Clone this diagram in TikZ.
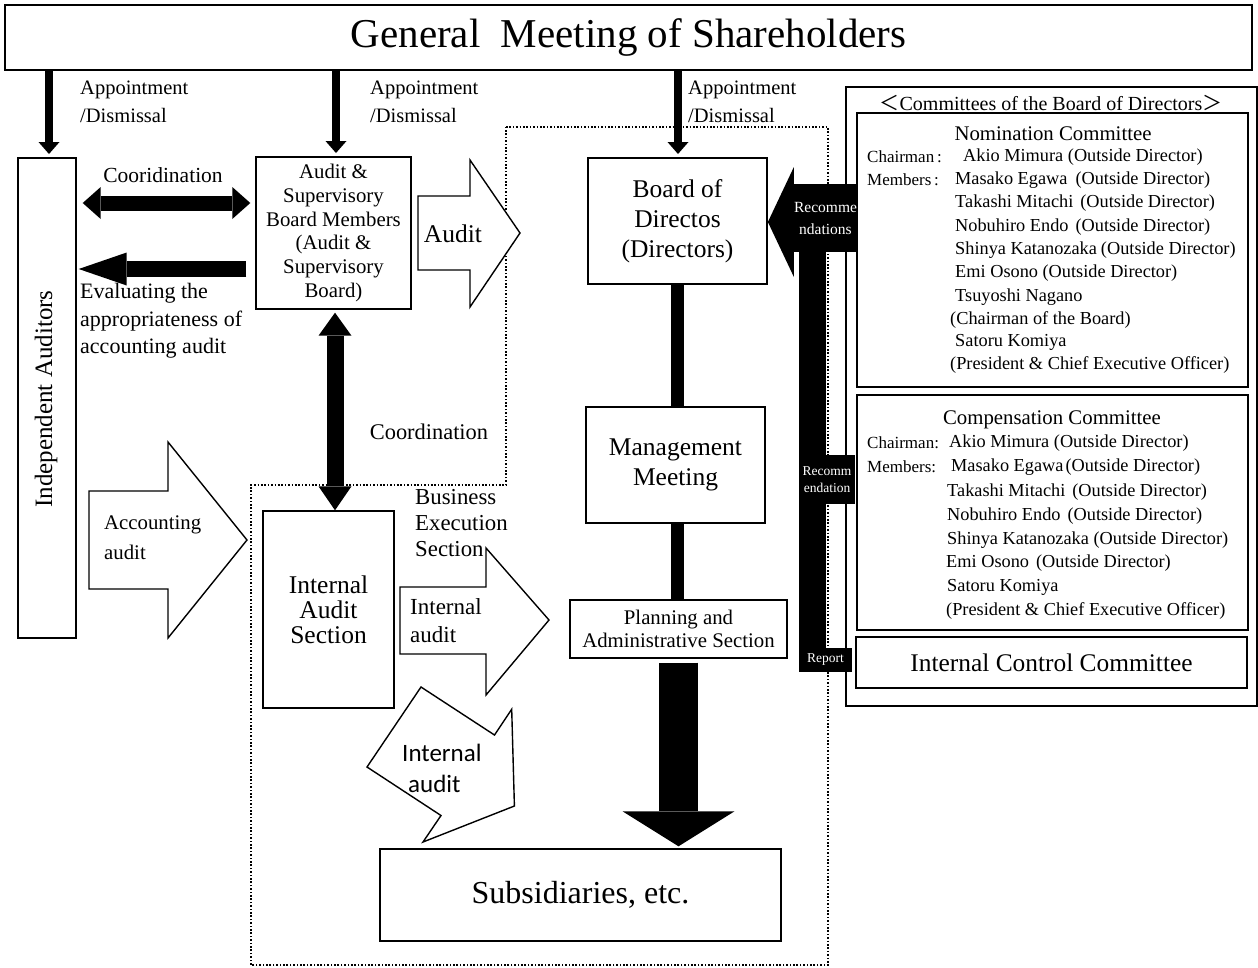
\documentclass[tikz,border=0pt]{standalone}
\usepackage{fontspec}
\setmainfont{Liberation Serif}
\newfontfamily\sansf{Carlito}
\newfontfamily\cjkf{Noto Sans CJK JP}
\usetikzlibrary{arrows.meta,calc}
\newcommand\fsz[2]{\fontsize{#1pt}{#2pt}\selectfont}
\newcommand\fwlt{{\cjkf ＜}}
\newcommand\fwgt{{\cjkf ＞}}
\begin{document}
\begin{tikzpicture}[x=1pt,y=-1pt,
  box/.style={draw, line width=1.4pt, fill=white, inner sep=0pt, align=center},
  hollow/.style={draw, line width=1.4pt, fill=white, line join=miter},
  dotline/.style={line width=1.2pt, dash pattern=on 1.6pt off 1.8pt},
  lbl/.style={inner sep=0pt, align=left, anchor=west},
  mem/.style={inner sep=0pt, anchor=west, font=\fsz{18.3}{22}},
  blk/.style={fill=black, text=white, inner sep=0pt, align=center},
  appr/.style={line width=8pt, -{Triangle[width=21pt,length=12pt,line width=0pt]}},
]
\useasboundingbox (0,0) rectangle (1258,967);
\fill[white] (0,0) rectangle (1258,967);

% dotted business execution region
\draw[dotline] (506,127) -- (828,127) -- (828,965) -- (251,965) -- (251,485) -- (506,485) -- cycle;

% title
\node[box, line width=1.6pt, minimum width=1247pt, minimum height=65pt, font=\fsz{41}{45}] (gms) at (628.5,37.5) {General\ \ Meeting of Shareholders};

% main boxes
\node[box, minimum width=58pt, minimum height=480pt] (iaud) at (47,398) {};
\node[rotate=90, inner sep=0pt, font=\fsz{25}{28}] (iaudt) at (46,399) {Independent Auditors};
\node[box, minimum width=155pt, minimum height=152pt, font=\fsz{20.8}{23.7}] (asb) at (333.5,233) {Audit \&\\Supervisory\\Board Members\\(Audit \&\\Supervisory\\Board)};
\node[box, minimum width=179pt, minimum height=126pt, font=\fsz{25.5}{30}] (board) at (677.5,221) {Board of\\Directos\\(Directors)};
\node[box, minimum width=179pt, minimum height=116pt, font=\fsz{25.5}{30}] (mgmt) at (675.5,465) {Management\\Meeting};
\node[box, minimum width=217pt, minimum height=58pt, font=\fsz{20.8}{23}] (plan) at (678.5,629) {Planning and\\Administrative Section};
\node[box, minimum width=131pt, minimum height=197pt, font=\fsz{25.5}{25}] (ias) at (328.5,609.5) {Internal\\Audit\\Section};
\node[box, minimum width=401pt, minimum height=92pt, font=\fsz{32}{36}] (subs) at (580.5,895) {Subsidiaries, etc.};

% appointment arrows
\coordinate (a1) at (49,154);
\coordinate (a2) at (336,153);
\coordinate (a3) at (678,154);
\draw[appr] (gms.south -| a1) -- (a1);
\draw[appr] (gms.south -| a2) -- (a2);
\draw[appr] (gms.south -| a3) -- (a3);
\node[lbl, font=\fsz{20.5}{28}] (ap1) at (80,102) {Appointment\\/Dismissal};
\node[lbl, font=\fsz{20.5}{28}] (ap2) at (370,102) {Appointment\\/Dismissal};
\node[lbl, font=\fsz{20.5}{28}] (ap3) at (688,102) {Appointment\\/Dismissal};

% coordination double arrow (horizontal)
\coordinate (c1) at (0,203);
\draw[line width=15pt, shorten <=6pt, shorten >=5pt,
  {Triangle[width=32pt,length=18pt,line width=0pt]}-{Triangle[width=32pt,length=18pt,line width=0pt]}]
  (iaud.east |- c1) -- (asb.west |- c1);
\node[font=\fsz{21.5}{24}, inner sep=0pt] (coor1) at (163,175) {Cooridination};

% evaluating arrow
\coordinate (c3) at (0,269);
\draw[line width=16pt, shorten <=9pt, shorten >=2pt, -{Triangle[width=33pt,length=48pt,line width=0pt]}]
  (asb.west |- c3) -- (iaud.east |- c3);
\node[lbl, font=\fsz{22}{27.5}] (evl) at (80,321) {Evaluating the\\appropriateness of\\accounting audit};

% vertical coordination
\coordinate (c4) at (335,0);
\draw[line width=17pt, shorten <=3pt,
  {Triangle[width=33pt,length=23pt,line width=0pt]}-{Triangle[width=33pt,length=24pt,line width=0pt]}]
  (asb.south -| c4) -- (ias.north -| c4);
\node[font=\fsz{22.4}{25}, inner sep=0pt] (coor2) at (429,432) {Coordination};

% audit hollow arrow
\draw[hollow] (418,196) -- (470,196) -- (470,160) -- (520,233) -- (470,307) -- (470,270) -- (418,270) -- cycle;
\node[font=\fsz{25.5}{28}, inner sep=0pt] (audt) at (453,234) {Audit};

% accounting audit arrow
\draw[hollow] (89,491) -- (168,491) -- (168,442) -- (247,540) -- (168,638) -- (168,589) -- (89,589) -- cycle;
\node[lbl, font=\fsz{20.8}{29.6}] (acc) at (104,537.5) {Accounting\\audit};

% business execution label
\node[lbl, font=\fsz{22.8}{26.3}] (bes) at (415,523) {Business\\Execution\\Section};

% internal audit arrow (right)
\draw[hollow] (400,587) -- (486,587) -- (486,548) -- (549,620) -- (486,695) -- (486,654) -- (400,654) -- cycle;
\node[lbl, font=\fsz{23}{28}] (ia1) at (410,621) {Internal\\audit};

% internal audit arrow (tilted)
\draw[hollow] (421,687) -- (494.5,735) -- (511.7,709.3) -- (514.4,806) -- (423,842) -- (441,815.5) -- (367,767) -- cycle;
\node[lbl, font=\sansf\fsz{25}{28}] (ia2a) at (402,753) {Internal};
\node[lbl, font=\sansf\fsz{25}{28}] (ia2b) at (408,784) {audit};

% vertical connectors of business execution
\draw[line width=13pt] (board.south) -- (board.south |- mgmt.north);
\draw[line width=13pt] (mgmt.south -| board.south) -- (plan.north -| board.south);
\coordinate (c5) at (678.5,0);
\draw[line width=39pt, shorten <=4pt, shorten >=2pt, -{Triangle[width=112pt,length=35pt,line width=0pt]}]
  (plan.south -| c5) -- (subs.north -| c5);

% committees
\node[box, minimum width=411pt, minimum height=619pt] (comm) at (1051.5,396.5) {};
\node[inner sep=0pt, font=\fsz{20}{24}] (commt) at (1051,103) {\fwlt Committees of the Board of Directors\fwgt};
\node[box, minimum width=391pt, minimum height=274pt] (nom) at (1052.5,250) {};
\node[box, minimum width=391pt, minimum height=235pt] (comp) at (1052.5,512.5) {};
\node[box, minimum width=391pt, minimum height=51pt, font=\fsz{25.4}{28}] (icc) at (1051.5,662.5) {Internal Control Committee};

\node[inner sep=0pt, font=\fsz{20.8}{24}] (nomt) at (1053,134) {Nomination Committee};
\node[mem, font=\fsz{17}{20}] (n1) at (867,157) {Chairman\,:};
\node[mem] (n2) at (963,157) {Akio Mimura (Outside Director)};
\node[mem, font=\fsz{17}{20}] (n3) at (867,180) {Members\,:};
\node[mem] (n4) at (955,180) {Masako Egawa\hspace{8pt}(Outside Director)};
\node[mem] (n5) at (955,203) {Takashi Mitachi\hspace{7pt}(Outside Director)};
\node[mem] (n6) at (955,227) {Nobuhiro Endo\hspace{7pt}(Outside Director)};
\node[mem] (n7) at (955,250) {Shinya Katanozaka\hspace{4pt}(Outside Director)};
\node[mem] (n8) at (955,273) {Emi Osono (Outside Director)};
\node[mem] (n9) at (955,297) {Tsuyoshi Nagano};
\node[mem] (n10) at (950,320) {(Chairman of the Board)};
\node[mem] (n11) at (955,342) {Satoru Komiya};
\node[mem] (n12) at (950,365) {(President \& Chief Executive Officer)};

\node[inner sep=0pt, font=\fsz{20.8}{24}] (compt) at (1052,420) {Compensation Committee};
\node[mem, font=\fsz{17}{20}] (m1) at (867,443) {Chairman:};
\node[mem] (m2) at (949,443) {Akio Mimura (Outside Director)};
\node[mem, font=\fsz{17}{20}] (m3) at (867,467) {Members:};
\node[mem] (m4) at (951,467) {Masako Egawa\hspace{2pt}(Outside Director)};
\node[mem] (m5) at (947,492) {Takashi Mitachi\hspace{7pt}(Outside Director)};
\node[mem] (m6) at (947,516) {Nobuhiro Endo\hspace{7pt}(Outside Director)};
\node[mem] (m7) at (947,540) {Shinya Katanozaka (Outside Director)};
\node[mem] (m8) at (946,563) {Emi Osono\hspace{7pt}(Outside Director)};
\node[mem] (m9) at (947,587) {Satoru Komiya};
\node[mem] (m10) at (946,611) {(President \& Chief Executive Officer)};

% recommendation / report black bar
\node[blk, minimum width=61pt, minimum height=68pt, font=\fsz{15.5}{22}] (recs) at (825.5,218) {Recomme\\ndations};
\fill ($(recs.west)+(0,-51)$) -- ($(recs.west)+(-26,4)$) -- ($(recs.west)+(0,59)$) -- cycle;
\node[blk, minimum width=53pt, minimum height=24pt, font=\fsz{13.5}{16}] (rep) at (825.5,660) {Report};
\coordinate (c6) at (812.5,0);
\draw[line width=27pt] (recs.south -| c6) -- (rep.north -| c6);
\node[blk, minimum width=56pt, minimum height=49pt, font=\fsz{13.5}{16.5}] (rec2) at (827,479.5) {Recomm\\endation};
\end{tikzpicture}
\end{document}
